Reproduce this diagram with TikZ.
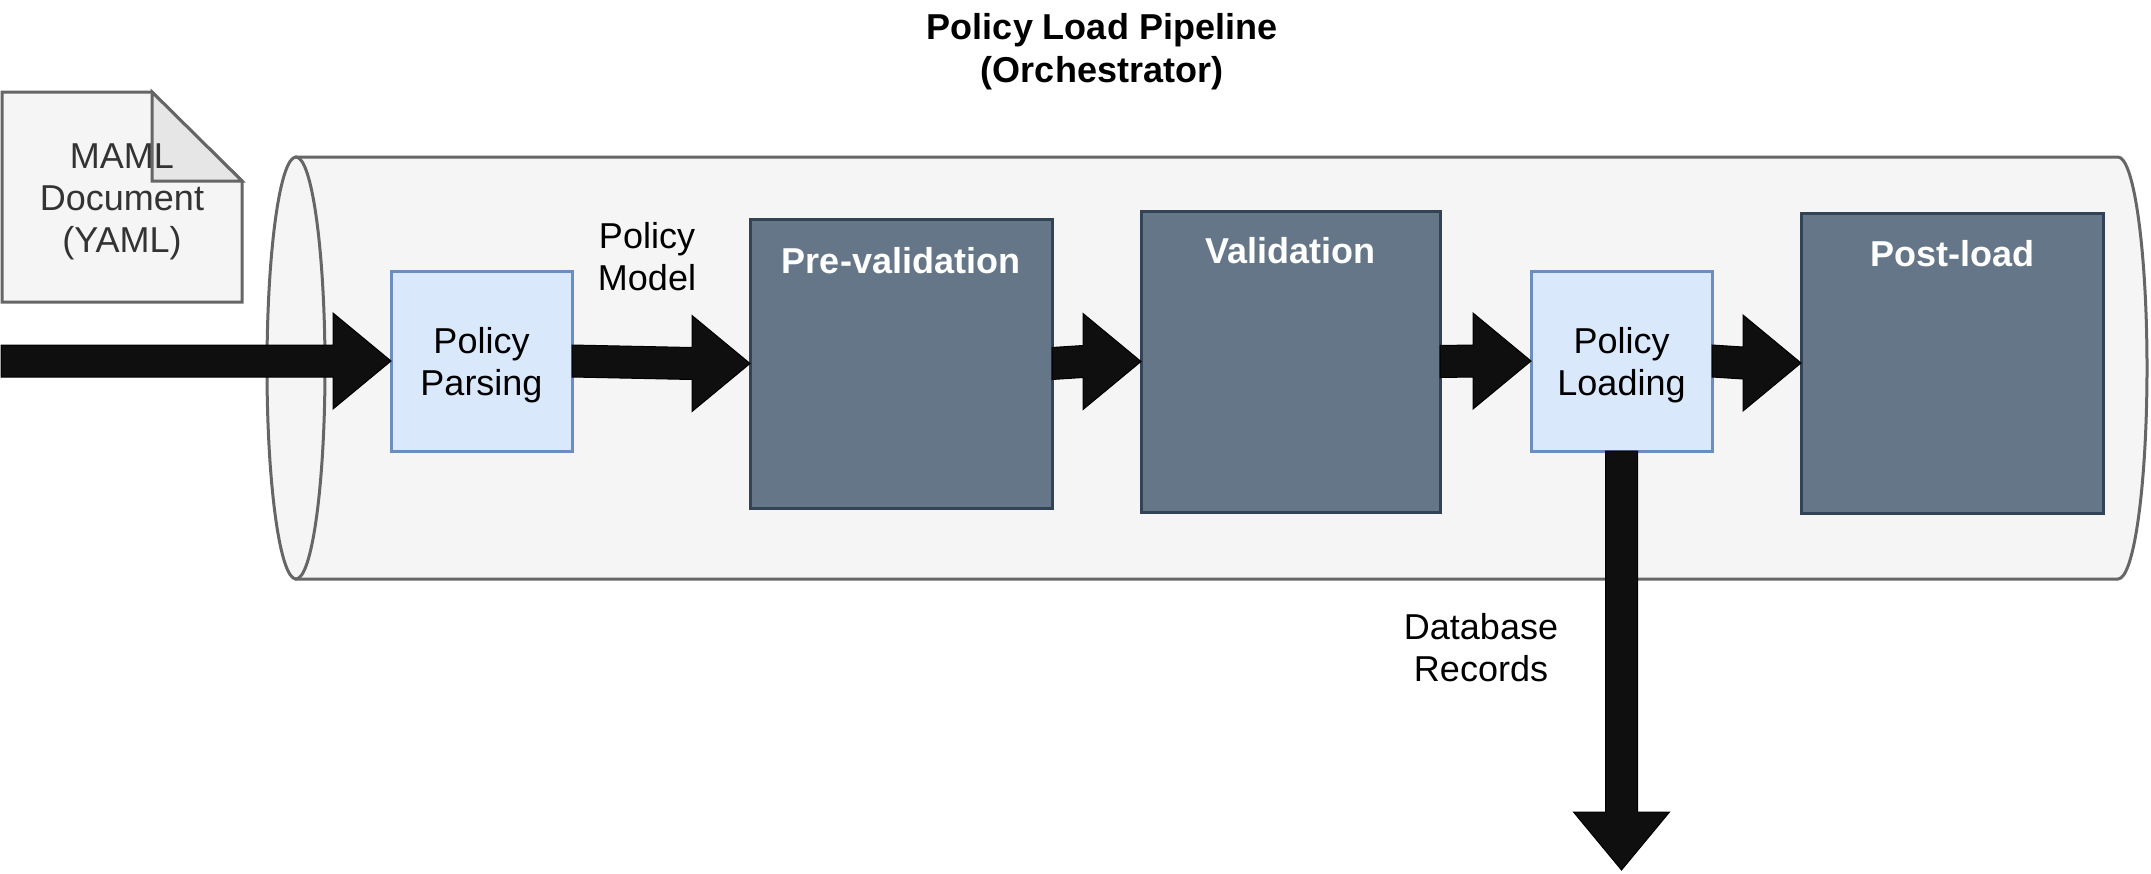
\documentclass[tikz,border=0pt]{standalone}
\usepackage{fontspec}
\setmainfont{Liberation Sans}
\usetikzlibrary{calc}
\definecolor{cylfill}{HTML}{F5F5F5}
\definecolor{cyldraw}{HTML}{666666}
\definecolor{darkfill}{HTML}{647687}
\definecolor{darkdraw}{HTML}{314354}
\definecolor{lightfill}{HTML}{DAE8FC}
\definecolor{lightdraw}{HTML}{6C8EBF}
\definecolor{foldfill}{HTML}{E6E6E6}
\definecolor{doctext}{HTML}{333333}
\definecolor{arrowc}{HTML}{0F0F0F}
\newcommand{\pflowh}[2]{\filldraw[flow] ($#1+(0,16)$) -- ($(#2.west)+(-58,16)$) -- ($(#2.west)+(-58,48)$) -- (#2.west) -- ($(#2.west)+(-58,-48)$) -- ($(#2.west)+(-58,-16)$) -- ($#1+(0,-16)$) -- cycle;}
\begin{document}
\begin{tikzpicture}[x=1pt,y=1pt,
  cyl/.style={fill=cylfill, draw=cyldraw, line width=3pt},
  docshape/.style={fill=cylfill, draw=cyldraw, line width=3pt},
  lightbox/.style={rectangle, fill=lightfill, draw=lightdraw, line width=3pt, inner sep=0pt, outer sep=0pt, align=center, text depth=0pt, font=\fontsize{36}{42}\selectfont},
  darkbox/.style={rectangle, fill=darkfill, draw=darkdraw, line width=3pt, inner sep=0pt, outer sep=0pt},
  darklabel/.style={text=white, inner sep=0pt, font=\bfseries\fontsize{36}{42}\selectfont},
  txt/.style={align=center, inner sep=0pt, font=\fontsize{36}{42}\selectfont},
  doclabel/.style={txt, text=doctext, text depth=0pt},
  titlelabel/.style={align=center, inner sep=0pt, text depth=0pt, font=\bfseries\fontsize{36}{43}\selectfont},
  flow/.style={fill=arrowc, draw=black, line width=1pt, line join=miter}
]
\useasboundingbox (0,0) rectangle (2151,-873);
% title
\node[titlelabel] (ttl) at (1102,-47.5) {Policy Load Pipeline\\(Orchestrator)};
% document
\filldraw[docshape] (2,-92) -- (152,-92) -- (242,-181) -- (242,-302) -- (2,-302) -- cycle;
\filldraw[docshape, fill=foldfill] (152,-92) -- (152,-181) -- (242,-181) -- cycle;
\node[doclabel] (doc) at (122,-198) {MAML\\Document\\(YAML)};
% cylinder
\filldraw[cyl] (296,-157) -- (2118,-157) arc[start angle=90,end angle=-90,x radius=29,y radius=211] -- (296,-579) -- cycle;
\filldraw[cyl] (296,-368) ellipse [x radius=29, y radius=211];
% stages
\node[lightbox, minimum width=181pt, minimum height=180pt] (parse) at (481.5,-361) {Policy\\Parsing};
\node[darkbox, minimum width=302pt, minimum height=289pt] (prev) at (901,-363.5) {};
\node[darkbox, minimum width=299pt, minimum height=301pt] (valid) at (1290.5,-361.5) {};
\node[lightbox, minimum width=181pt, minimum height=180pt] (load) at (1621.5,-361) {Policy\\Loading};
\node[darkbox, minimum width=302pt, minimum height=300pt] (post) at (1952,-363) {};
\node[darklabel] (prevlab) at ([yshift=-42pt]prev.north) {Pre-validation};
\node[darklabel] (validlab) at ([yshift=-40pt]valid.north) {Validation};
\node[darklabel] (postlab) at ([yshift=-41pt]post.north) {Post-load};
% labels
\node[txt] (pm) at (647,-256.5) {Policy\\Model};
\node[txt] (dbr) at (1481,-647.5) {Database\\Records};
% connectors
\coordinate (src) at (1,-361);
\coordinate (dbend) at (load.south |- 0,-870);
\pflowh{(src)}{parse}
\pflowh{(parse.east)}{prev}
\pflowh{(prev.east)}{valid}
\pflowh{(valid.east)}{load}
\pflowh{(load.east)}{post}
\filldraw[flow] ($(load.south)+(-16,0)$) -- ($(dbend)+(-16,58)$) -- ($(dbend)+(-48,58)$) -- (dbend) -- ($(dbend)+(48,58)$) -- ($(dbend)+(16,58)$) -- ($(load.south)+(16,0)$) -- cycle;
\end{tikzpicture}
\end{document}
